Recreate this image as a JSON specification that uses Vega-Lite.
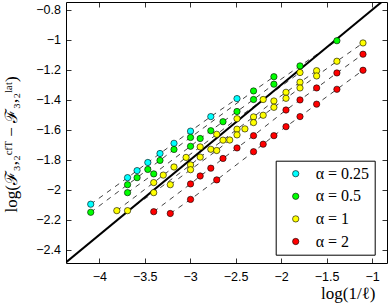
{
  "$schema": "https://vega.github.io/schema/vega-lite/v6.json",
  "width": 321,
  "height": 261,
  "autosize": {"type": "none"},
  "padding": {"left": 66, "top": 2, "right": 3, "bottom": 43},
  "background": "white",
  "config": {
    "view": {"stroke": "black", "strokeWidth": 1},
    "axis": {
      "grid": false,
      "domain": false,
      "tickColor": "black",
      "tickWidth": 0.8,
      "tickSize": -5,
      "labelFont": "Liberation Sans",
      "labelFontSize": 12.5,
      "labelColor": "black",
      "titleFont": "Liberation Serif",
      "titleFontSize": 17,
      "titleFontWeight": "normal",
      "titleColor": "black"
    },
    "legend": {
      "orient": "none",
      "legendX": 209.7,
      "legendY": 158.7,
      "strokeColor": "black",
      "fillColor": "white",
      "padding": 5,
      "labelFont": "Liberation Serif",
      "labelFontSize": 16,
      "labelColor": "black",
      "symbolSize": 40,
      "symbolType": "circle",
      "symbolStrokeColor": "black",
      "symbolStrokeWidth": 0.6,
      "symbolOpacity": 1,
      "rowPadding": 6.6,
      "labelOffset": 12,
      "symbolOffset": 7
    }
  },
  "datasets": {
    "pts": [
      {"a": "α = 0.25", "g": "c1", "x": -4.094, "y": -2.095},
      {"a": "α = 0.25", "g": "c1", "x": -3.689, "y": -1.918},
      {"a": "α = 0.25", "g": "c1", "x": -3.584, "y": -1.871},
      {"a": "α = 0.25", "g": "c1", "x": -3.466, "y": -1.817},
      {"a": "α = 0.25", "g": "c1", "x": -3.332, "y": -1.757},
      {"a": "α = 0.25", "g": "c1", "x": -3.178, "y": -1.689},
      {"a": "α = 0.25", "g": "c1", "x": -2.996, "y": -1.608},
      {"a": "α = 0.25", "g": "c1", "x": -2.773, "y": -1.511},
      {"a": "α = 0.25", "g": "c1", "x": -2.485, "y": -1.391},

      {"a": "α = 0.5", "g": "g1", "x": -4.094, "y": -2.149},
      {"a": "α = 0.5", "g": "g1", "x": -3.689, "y": -1.965},
      {"a": "α = 0.5", "g": "g1", "x": -3.584, "y": -1.918},
      {"a": "α = 0.5", "g": "g1", "x": -3.466, "y": -1.863},
      {"a": "α = 0.5", "g": "g1", "x": -3.332, "y": -1.803},
      {"a": "α = 0.5", "g": "g1", "x": -3.178, "y": -1.730},
      {"a": "α = 0.5", "g": "g1", "x": -2.996, "y": -1.650},
      {"a": "α = 0.5", "g": "g1", "x": -2.303, "y": -1.340},
      {"a": "α = 0.5", "g": "g1", "x": -2.079, "y": -1.245},
      {"a": "α = 0.5", "g": "g2", "x": -3.689, "y": -2.018},
      {"a": "α = 0.5", "g": "g2", "x": -3.401, "y": -1.893},
      {"a": "α = 0.5", "g": "g2", "x": -2.996, "y": -1.709},
      {"a": "α = 0.5", "g": "g2", "x": -2.890, "y": -1.657},
      {"a": "α = 0.5", "g": "g2", "x": -2.773, "y": -1.605},
      {"a": "α = 0.5", "g": "g2", "x": -2.639, "y": -1.545},
      {"a": "α = 0.5", "g": "g2", "x": -2.485, "y": -1.477},
      {"a": "α = 0.5", "g": "g2", "x": -2.303, "y": -1.397},
      {"a": "α = 0.5", "g": "g2", "x": -2.079, "y": -1.295},
      {"a": "α = 0.5", "g": "g2", "x": -1.792, "y": -1.173},
      {"a": "α = 0.5", "g": "g2", "x": -1.386, "y": -1.005},

      {"a": "α = 1", "g": "y1", "x": -3.807, "y": -2.138},
      {"a": "α = 1", "g": "y1", "x": -3.401, "y": -1.951},
      {"a": "α = 1", "g": "y1", "x": -3.296, "y": -1.901},
      {"a": "α = 1", "g": "y1", "x": -3.178, "y": -1.847},
      {"a": "α = 1", "g": "y1", "x": -3.045, "y": -1.783},
      {"a": "α = 1", "g": "y1", "x": -2.890, "y": -1.713},
      {"a": "α = 1", "g": "y1", "x": -2.708, "y": -1.629},
      {"a": "α = 1", "g": "y1", "x": -2.485, "y": -1.525},
      {"a": "α = 1", "g": "y1", "x": -2.197, "y": -1.397},
      {"a": "α = 1", "g": "y1", "x": -1.792, "y": -1.217},
      {"a": "α = 1", "g": "y2", "x": -3.689, "y": -2.138},
      {"a": "α = 1", "g": "y2", "x": -3.401, "y": -2.018},
      {"a": "α = 1", "g": "y2", "x": -2.996, "y": -1.833},
      {"a": "α = 1", "g": "y2", "x": -2.890, "y": -1.781},
      {"a": "α = 1", "g": "y2", "x": -2.773, "y": -1.729},
      {"a": "α = 1", "g": "y2", "x": -2.639, "y": -1.668},
      {"a": "α = 1", "g": "y2", "x": -2.485, "y": -1.595},
      {"a": "α = 1", "g": "y2", "x": -2.303, "y": -1.513},
      {"a": "α = 1", "g": "y2", "x": -2.079, "y": -1.407},
      {"a": "α = 1", "g": "y2", "x": -1.946, "y": -1.349},
      {"a": "α = 1", "g": "y2", "x": -1.792, "y": -1.282},
      {"a": "α = 1", "g": "y2", "x": -1.609, "y": -1.205},
      {"a": "α = 1", "g": "y3", "x": -3.219, "y": -1.965},
      {"a": "α = 1", "g": "y3", "x": -2.996, "y": -1.865},
      {"a": "α = 1", "g": "y3", "x": -2.708, "y": -1.737},
      {"a": "α = 1", "g": "y3", "x": -2.565, "y": -1.667},
      {"a": "α = 1", "g": "y3", "x": -2.485, "y": -1.633},
      {"a": "α = 1", "g": "y3", "x": -2.398, "y": -1.593},
      {"a": "α = 1", "g": "y3", "x": -2.303, "y": -1.551},
      {"a": "α = 1", "g": "y3", "x": -2.197, "y": -1.502},
      {"a": "α = 1", "g": "y3", "x": -2.079, "y": -1.449},
      {"a": "α = 1", "g": "y3", "x": -1.946, "y": -1.389},
      {"a": "α = 1", "g": "y3", "x": -1.792, "y": -1.320},
      {"a": "α = 1", "g": "y3", "x": -1.609, "y": -1.240},
      {"a": "α = 1", "g": "y3", "x": -1.386, "y": -1.142},
      {"a": "α = 1", "g": "y3", "x": -1.099, "y": -1.020},

      {"a": "α = 2", "g": "r1", "x": -3.401, "y": -2.145},
      {"a": "α = 2", "g": "r1", "x": -2.996, "y": -1.960},
      {"a": "α = 2", "g": "r1", "x": -2.890, "y": -1.907},
      {"a": "α = 2", "g": "r1", "x": -2.773, "y": -1.855},
      {"a": "α = 2", "g": "r1", "x": -2.639, "y": -1.790},
      {"a": "α = 2", "g": "r1", "x": -2.485, "y": -1.720},
      {"a": "α = 2", "g": "r1", "x": -2.303, "y": -1.638},
      {"a": "α = 2", "g": "r1", "x": -1.946, "y": -1.467},
      {"a": "α = 2", "g": "r1", "x": -1.792, "y": -1.400},
      {"a": "α = 2", "g": "r1", "x": -1.609, "y": -1.320},
      {"a": "α = 2", "g": "r1", "x": -1.386, "y": -1.220},
      {"a": "α = 2", "g": "r1", "x": -1.099, "y": -1.095},
      {"a": "α = 2", "g": "r2", "x": -3.219, "y": -2.157},
      {"a": "α = 2", "g": "r2", "x": -2.996, "y": -2.063},
      {"a": "α = 2", "g": "r2", "x": -2.708, "y": -1.933},
      {"a": "α = 2", "g": "r2", "x": -2.303, "y": -1.745},
      {"a": "α = 2", "g": "r2", "x": -2.197, "y": -1.695},
      {"a": "α = 2", "g": "r2", "x": -2.079, "y": -1.638},
      {"a": "α = 2", "g": "r2", "x": -1.946, "y": -1.578},
      {"a": "α = 2", "g": "r2", "x": -1.792, "y": -1.511},
      {"a": "α = 2", "g": "r2", "x": -1.609, "y": -1.428},
      {"a": "α = 2", "g": "r2", "x": -1.386, "y": -1.329},
      {"a": "α = 2", "g": "r2", "x": -1.099, "y": -1.202}
    ],
    "ref": [
      {"x": -4.4, "y": -2.5},
      {"x": -0.8, "y": -0.7}
    ]
  },
  "resolve": {"axis": {"x": "independent", "y": "independent"}},
  "layer": [
    {
      "data": {"name": "pts"},
      "mark": {"type": "line", "strokeDash": [5, 5], "strokeWidth": 0.8, "color": "#111111"},
      "encoding": {
        "x": {"field": "x", "type": "quantitative", "scale": {"domain": [-4.366, -0.835], "nice": false, "zero": false}, "axis": null},
        "y": {"field": "y", "type": "quantitative", "scale": {"domain": [-2.487, -0.747], "nice": false, "zero": false}, "axis": null},
        "detail": {"field": "g", "type": "nominal"}
      }
    },
    {
      "data": {"name": "ref"},
      "mark": {"type": "line", "color": "black", "strokeWidth": 2, "clip": true},
      "encoding": {
        "x": {"field": "x", "type": "quantitative", "scale": {"domain": [-4.366, -0.835], "nice": false, "zero": false},
              "axis": {"orient": "top", "labels": false, "title": null, "values": [-4, -3.5, -3, -2.5, -2, -1.5, -1]}},
        "y": {"field": "y", "type": "quantitative", "scale": {"domain": [-2.487, -0.747], "nice": false, "zero": false},
              "axis": {"orient": "right", "labels": false, "title": null, "values": [-2.4, -2.2, -2, -1.8, -1.6, -1.4, -1.2, -1, -0.8]}}
      }
    },
    {
      "data": {"name": "pts"},
      "mark": {"type": "point", "filled": true, "size": 40, "opacity": 1, "stroke": "black", "strokeWidth": 0.6},
      "encoding": {
        "x": {"field": "x", "type": "quantitative", "scale": {"domain": [-4.366, -0.835], "nice": false, "zero": false},
              "axis": {"orient": "bottom", "values": [-4, -3.5, -3, -2.5, -2, -1.5, -1], "format": "~g", "labelPadding": 12,
                       "title": "log(1/ℓ)", "titleX": 309, "titleY": 30, "titleAlign": "right", "titleBaseline": "middle", "titleAnchor": null}},
        "y": {"field": "y", "type": "quantitative", "scale": {"domain": [-2.487, -0.747], "nice": false, "zero": false},
              "axis": {"orient": "left", "values": [-2.4, -2.2, -2, -1.8, -1.6, -1.4, -1.2, -1, -0.8], "format": "~g", "labelPadding": 10.5,
                       "title": "log(ℱ₃,₂ᶜᶠᵀ − ℱ₃,₂ˡᵃᵗ)", "titleX": -46, "titleY": 142, "titleAngle": -90, "titleAlign": "center", "titleBaseline": "bottom", "titleAnchor": null}},
        "color": {"field": "a", "type": "nominal",
                  "scale": {"domain": ["α = 0.25", "α = 0.5", "α = 1", "α = 2"], "range": ["#00ffff", "#00ff00", "#ffff00", "#ff0000"]},
                  "legend": {"title": null}}
      }
    }
  ]
}
